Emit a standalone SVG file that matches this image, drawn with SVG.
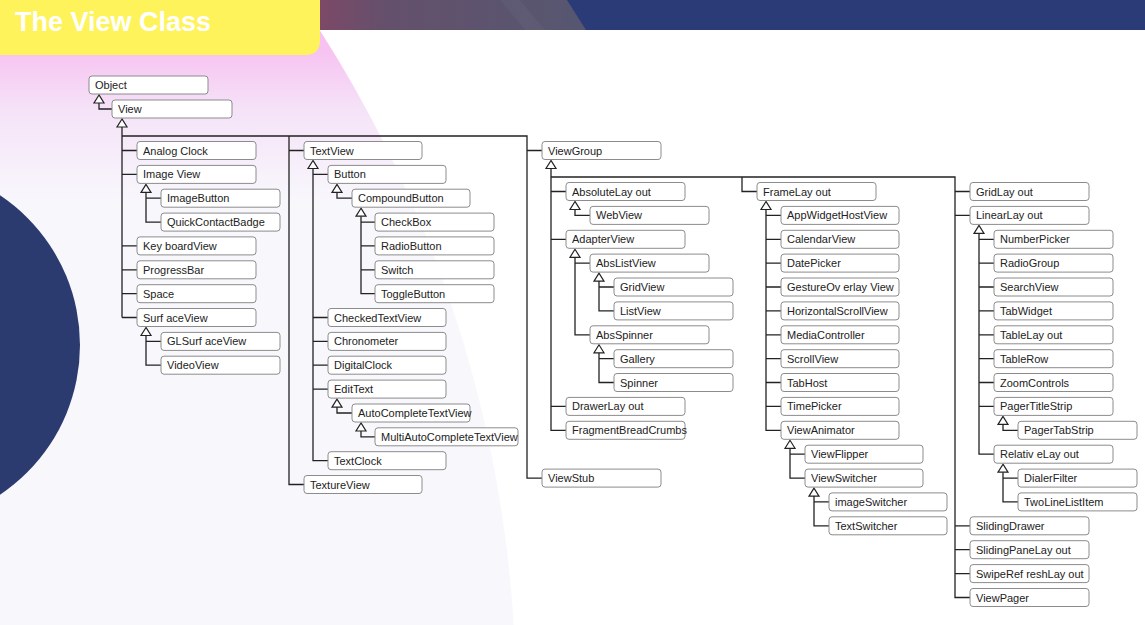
<svg xmlns="http://www.w3.org/2000/svg" width="1145" height="625" viewBox="0 0 1145 625">
<defs>
<linearGradient id="pink" gradientUnits="userSpaceOnUse" x1="0" y1="50" x2="0" y2="200">
<stop offset="0" stop-color="#f7c2f1"/>
<stop offset="0.4" stop-color="#f5e3f8"/>
<stop offset="1" stop-color="#f8f7fc"/>
</linearGradient>
<linearGradient id="band" gradientUnits="userSpaceOnUse" x1="320" y1="0" x2="1145" y2="0">
<stop offset="0" stop-color="#7c4967"/>
<stop offset="0.08" stop-color="#64506c"/>
<stop offset="0.3" stop-color="#575670"/>
<stop offset="1" stop-color="#575670"/>
</linearGradient>
<style>
.n rect{fill:#fff;stroke:#8c8c8c;stroke-width:1}
.n text{font-family:"Liberation Sans",Arial,sans-serif;font-size:11px;fill:#222}
.c path{fill:none;stroke:#222;stroke-width:1.3}
.c polygon{fill:#fff;stroke:#222;stroke-width:1.2}
</style>
</defs>
<rect width="1145" height="625" fill="#fff"/>
<circle cx="-725" cy="700" r="1241" fill="url(#pink)"/>
<circle cx="-100" cy="345" r="180" fill="#2b3a6f"/>
<rect x="300" y="0" width="845" height="30" fill="url(#band)"/>
<polygon points="567,0 1145,0 1145,30 586,30" fill="#2b3b77"/>
<polygon points="500,0 520,0 545,30 525,30" fill="#615f76" opacity="0.6"/>
<path d="M0 0 H320 V40 Q320 55 305 55 H0 Z" fill="#fff35c"/>
<text x="15" y="31" font-family="Liberation Sans,Arial,sans-serif" font-size="27" font-weight="bold" fill="#fff">The View Class</text>

<g class="c">
<path d="M99 103 V109 H112"/>
<polygon points="99,95 94,103 104,103"/>
<path d="M122 127 V317.5 M122 150.5 H137 M122 174.4 H137 M122 245.9 H137 M122 269.8 H137 M122 293.7 H137 M122 317.5 H137"/>
<path d="M122 136 H527 V478.1 H542 M527 150.5 H542 M289 136 V484.5 H304 M289 150.5 H304"/>
<polygon points="122,119 117,127 127,127"/>
<path d="M146 192.4 V222.1 H161 M146 198.2 H161"/>
<polygon points="146,184.4 141,192.4 151,192.4"/>
<path d="M146 335.5 V365.2 H161 M146 341.4 H161"/>
<polygon points="146,327.5 141,335.5 151,335.5"/>
<path d="M313 168.5 V460.7 H328 M313 174.4 H328 M313 317.5 H328 M313 341.4 H328 M313 365.2 H328 M313 389.1 H328"/>
<polygon points="313,160.5 308,168.5 318,168.5"/>
<path d="M337 192.4 V198.2 H352"/>
<polygon points="337,184.4 332,192.4 342,192.4"/>
<path d="M361 216.2 V293.7 H375 M361 222.1 H375 M361 245.9 H375 M361 269.8 H375"/>
<polygon points="361,208.2 356,216.2 366,216.2"/>
<path d="M337 407.1 V413 H352"/>
<polygon points="337,399.1 332,407.1 342,407.1"/>
<path d="M361 431 V436.8 H375"/>
<polygon points="361,423 356,431 366,431"/>
<path d="M551 168.5 V430.3 H566 M551 191.5 H566 M551 239.3 H566 M551 406.4 H566"/>
<path d="M551 177 H955 V597.5 H970 M742 177 V191.5 H757 M955 191.5 H970 M955 215.4 H970 M955 525.8 H970 M955 549.7 H970 M955 573.6 H970"/>
<polygon points="551,160.5 546,168.5 556,168.5"/>
<path d="M575 209.5 V215.4 H590"/>
<polygon points="575,201.5 570,209.5 580,209.5"/>
<path d="M575 257.3 V334.8 H590 M575 263.1 H590"/>
<polygon points="575,249.3 570,257.3 580,257.3"/>
<path d="M599 281.1 V310.9 H614 M599 287 H614"/>
<polygon points="599,273.1 594,281.1 604,281.1"/>
<path d="M599 352.8 V382.5 H614 M599 358.7 H614"/>
<polygon points="599,344.8 594,352.8 604,352.8"/>
<path d="M766 209.5 V430.3 H781 M766 215.4 H781 M766 239.3 H781 M766 263.1 H781 M766 287 H781 M766 310.9 H781 M766 334.8 H781 M766 358.7 H781 M766 382.5 H781 M766 406.4 H781"/>
<polygon points="766,201.5 761,209.5 771,209.5"/>
<path d="M790 448.3 V478.1 H805 M790 454.2 H805"/>
<polygon points="790,440.3 785,448.3 795,448.3"/>
<path d="M814 496.1 V525.8 H829 M814 501.9 H829"/>
<polygon points="814,488.1 809,496.1 819,496.1"/>
<path d="M979 233.4 V454.2 H994 M979 239.3 H994 M979 263.1 H994 M979 287 H994 M979 310.9 H994 M979 334.8 H994 M979 358.7 H994 M979 382.5 H994 M979 406.4 H994"/>
<polygon points="979,225.4 974,233.4 984,233.4"/>
<path d="M1003 424.4 V430.3 H1018"/>
<polygon points="1003,416.4 998,424.4 1008,424.4"/>
<path d="M1003 472.2 V501.9 H1018 M1003 478.1 H1018"/>
<polygon points="1003,464.2 998,472.2 1008,472.2"/>
</g>

<g class="n" id="n-object"><rect x="89" y="76" width="119" height="18" rx="3"/><text x="95" y="89">Object</text></g>
<g class="n" id="n-view"><rect x="112" y="100" width="120" height="18" rx="3"/><text x="118" y="113">View</text></g>
<g class="n" id="n-analogclock"><rect x="137" y="141.5" width="119" height="18" rx="3"/><text x="143" y="154.5">Analog Clock</text></g>
<g class="n" id="n-imageview"><rect x="137" y="165.4" width="119" height="18" rx="3"/><text x="143" y="178.4">Image View</text></g>
<g class="n" id="n-imagebutton"><rect x="161" y="189.2" width="119" height="18" rx="3"/><text x="167" y="202.2">ImageButton</text></g>
<g class="n" id="n-quickcontactbadge"><rect x="161" y="213.1" width="119" height="18" rx="3"/><text x="167" y="226.1">QuickContactBadge</text></g>
<g class="n" id="n-keyboardview"><rect x="137" y="236.9" width="119" height="18" rx="3"/><text x="143" y="249.9">Key boardView</text></g>
<g class="n" id="n-progressbar"><rect x="137" y="260.8" width="119" height="18" rx="3"/><text x="143" y="273.8">ProgressBar</text></g>
<g class="n" id="n-space"><rect x="137" y="284.7" width="119" height="18" rx="3"/><text x="143" y="297.7">Space</text></g>
<g class="n" id="n-surfaceview"><rect x="137" y="308.5" width="119" height="18" rx="3"/><text x="143" y="321.5">Surf aceView</text></g>
<g class="n" id="n-glsurfaceview"><rect x="161" y="332.4" width="119" height="18" rx="3"/><text x="167" y="345.4">GLSurf aceView</text></g>
<g class="n" id="n-videoview"><rect x="161" y="356.2" width="119" height="18" rx="3"/><text x="167" y="369.2">VideoView</text></g>

<g class="n" id="n-textview"><rect x="304" y="141.5" width="118" height="18" rx="3"/><text x="310" y="154.5">TextView</text></g>
<g class="n" id="n-button"><rect x="328" y="165.4" width="118" height="18" rx="3"/><text x="334" y="178.4">Button</text></g>
<g class="n" id="n-compoundbutton"><rect x="352" y="189.2" width="118" height="18" rx="3"/><text x="358" y="202.2">CompoundButton</text></g>
<g class="n" id="n-checkbox"><rect x="375" y="213.1" width="119" height="18" rx="3"/><text x="381" y="226.1">CheckBox</text></g>
<g class="n" id="n-radiobutton"><rect x="375" y="236.9" width="119" height="18" rx="3"/><text x="381" y="249.9">RadioButton</text></g>
<g class="n" id="n-switch"><rect x="375" y="260.8" width="119" height="18" rx="3"/><text x="381" y="273.8">Switch</text></g>
<g class="n" id="n-togglebutton"><rect x="375" y="284.7" width="119" height="18" rx="3"/><text x="381" y="297.7">ToggleButton</text></g>
<g class="n" id="n-checkedtextview"><rect x="328" y="308.5" width="118" height="18" rx="3"/><text x="334" y="321.5">CheckedTextView</text></g>
<g class="n" id="n-chronometer"><rect x="328" y="332.4" width="118" height="18" rx="3"/><text x="334" y="345.4">Chronometer</text></g>
<g class="n" id="n-digitalclock"><rect x="328" y="356.2" width="118" height="18" rx="3"/><text x="334" y="369.2">DigitalClock</text></g>
<g class="n" id="n-edittext"><rect x="328" y="380.1" width="118" height="18" rx="3"/><text x="334" y="393.1">EditText</text></g>
<g class="n" id="n-autocompletetextview"><rect x="352" y="404" width="118" height="18" rx="3"/><text x="358" y="417">AutoCompleteTextView</text></g>
<g class="n" id="n-multiautocompletetextview"><rect x="375" y="427.8" width="143" height="18" rx="3"/><text x="381" y="440.8">MultiAutoCompleteTextView</text></g>
<g class="n" id="n-textclock"><rect x="328" y="451.7" width="118" height="18" rx="3"/><text x="334" y="464.7">TextClock</text></g>
<g class="n" id="n-textureview"><rect x="304" y="475.5" width="118" height="18" rx="3"/><text x="310" y="488.5">TextureView</text></g>

<g class="n" id="n-viewgroup"><rect x="542" y="141.5" width="119" height="18" rx="3"/><text x="548" y="154.5">ViewGroup</text></g>
<g class="n" id="n-absolutelayout"><rect x="566" y="182.5" width="119" height="18" rx="3"/><text x="572" y="195.5">AbsoluteLay out</text></g>
<g class="n" id="n-webview"><rect x="590" y="206.4" width="119" height="18" rx="3"/><text x="596" y="219.4">WebView</text></g>
<g class="n" id="n-adapterview"><rect x="566" y="230.3" width="119" height="18" rx="3"/><text x="572" y="243.3">AdapterView</text></g>
<g class="n" id="n-abslistview"><rect x="590" y="254.1" width="119" height="18" rx="3"/><text x="596" y="267.1">AbsListView</text></g>
<g class="n" id="n-gridview"><rect x="614" y="278" width="119" height="18" rx="3"/><text x="620" y="291">GridView</text></g>
<g class="n" id="n-listview"><rect x="614" y="301.9" width="119" height="18" rx="3"/><text x="620" y="314.9">ListView</text></g>
<g class="n" id="n-absspinner"><rect x="590" y="325.8" width="119" height="18" rx="3"/><text x="596" y="338.8">AbsSpinner</text></g>
<g class="n" id="n-gallery"><rect x="614" y="349.7" width="119" height="18" rx="3"/><text x="620" y="362.7">Gallery</text></g>
<g class="n" id="n-spinner"><rect x="614" y="373.5" width="119" height="18" rx="3"/><text x="620" y="386.5">Spinner</text></g>
<g class="n" id="n-drawerlayout"><rect x="566" y="397.4" width="119" height="18" rx="3"/><text x="572" y="410.4">DrawerLay out</text></g>
<g class="n" id="n-fragmentbreadcrumbs"><rect x="566" y="421.3" width="119" height="18" rx="3"/><text x="572" y="434.3">FragmentBreadCrumbs</text></g>
<g class="n" id="n-viewstub"><rect x="542" y="469.1" width="119" height="18" rx="3"/><text x="548" y="482.1">ViewStub</text></g>

<g class="n" id="n-framelayout"><rect x="757" y="182.5" width="119" height="18" rx="3"/><text x="763" y="195.5">FrameLay out</text></g>
<g class="n" id="n-appwidgethostview"><rect x="781" y="206.4" width="118" height="18" rx="3"/><text x="787" y="219.4">AppWidgetHostView</text></g>
<g class="n" id="n-calendarview"><rect x="781" y="230.3" width="118" height="18" rx="3"/><text x="787" y="243.3">CalendarView</text></g>
<g class="n" id="n-datepicker"><rect x="781" y="254.1" width="118" height="18" rx="3"/><text x="787" y="267.1">DatePicker</text></g>
<g class="n" id="n-gestureoverlayview"><rect x="781" y="278" width="118" height="18" rx="3"/><text x="787" y="291">GestureOv erlay View</text></g>
<g class="n" id="n-horizontalscrollview"><rect x="781" y="301.9" width="118" height="18" rx="3"/><text x="787" y="314.9">HorizontalScrollView</text></g>
<g class="n" id="n-mediacontroller"><rect x="781" y="325.8" width="118" height="18" rx="3"/><text x="787" y="338.8">MediaController</text></g>
<g class="n" id="n-scrollview"><rect x="781" y="349.7" width="118" height="18" rx="3"/><text x="787" y="362.7">ScrollView</text></g>
<g class="n" id="n-tabhost"><rect x="781" y="373.5" width="118" height="18" rx="3"/><text x="787" y="386.5">TabHost</text></g>
<g class="n" id="n-timepicker"><rect x="781" y="397.4" width="118" height="18" rx="3"/><text x="787" y="410.4">TimePicker</text></g>
<g class="n" id="n-viewanimator"><rect x="781" y="421.3" width="118" height="18" rx="3"/><text x="787" y="434.3">ViewAnimator</text></g>
<g class="n" id="n-viewflipper"><rect x="805" y="445.2" width="118" height="18" rx="3"/><text x="811" y="458.2">ViewFlipper</text></g>
<g class="n" id="n-viewswitcher"><rect x="805" y="469.1" width="118" height="18" rx="3"/><text x="811" y="482.1">ViewSwitcher</text></g>
<g class="n" id="n-imageswitcher"><rect x="829" y="492.9" width="118" height="18" rx="3"/><text x="835" y="505.9">imageSwitcher</text></g>
<g class="n" id="n-textswitcher"><rect x="829" y="516.8" width="118" height="18" rx="3"/><text x="835" y="529.8">TextSwitcher</text></g>

<g class="n" id="n-gridlayout"><rect x="970" y="182.5" width="119" height="18" rx="3"/><text x="976" y="195.5">GridLay out</text></g>
<g class="n" id="n-linearlayout"><rect x="970" y="206.4" width="119" height="18" rx="3"/><text x="976" y="219.4">LinearLay out</text></g>
<g class="n" id="n-numberpicker"><rect x="994" y="230.3" width="119" height="18" rx="3"/><text x="1000" y="243.3">NumberPicker</text></g>
<g class="n" id="n-radiogroup"><rect x="994" y="254.1" width="119" height="18" rx="3"/><text x="1000" y="267.1">RadioGroup</text></g>
<g class="n" id="n-searchview"><rect x="994" y="278" width="119" height="18" rx="3"/><text x="1000" y="291">SearchView</text></g>
<g class="n" id="n-tabwidget"><rect x="994" y="301.9" width="119" height="18" rx="3"/><text x="1000" y="314.9">TabWidget</text></g>
<g class="n" id="n-tablelayout"><rect x="994" y="325.8" width="119" height="18" rx="3"/><text x="1000" y="338.8">TableLay out</text></g>
<g class="n" id="n-tablerow"><rect x="994" y="349.7" width="119" height="18" rx="3"/><text x="1000" y="362.7">TableRow</text></g>
<g class="n" id="n-zoomcontrols"><rect x="994" y="373.5" width="119" height="18" rx="3"/><text x="1000" y="386.5">ZoomControls</text></g>
<g class="n" id="n-pagertitlestrip"><rect x="994" y="397.4" width="119" height="18" rx="3"/><text x="1000" y="410.4">PagerTitleStrip</text></g>
<g class="n" id="n-pagertabstrip"><rect x="1018" y="421.3" width="119" height="18" rx="3"/><text x="1024" y="434.3">PagerTabStrip</text></g>
<g class="n" id="n-relativelayout"><rect x="994" y="445.2" width="119" height="18" rx="3"/><text x="1000" y="458.2">Relativ eLay out</text></g>
<g class="n" id="n-dialerfilter"><rect x="1018" y="469.1" width="119" height="18" rx="3"/><text x="1024" y="482.1">DialerFilter</text></g>
<g class="n" id="n-twolinelistitem"><rect x="1018" y="492.9" width="119" height="18" rx="3"/><text x="1024" y="505.9">TwoLineListItem</text></g>
<g class="n" id="n-slidingdrawer"><rect x="970" y="516.8" width="119" height="18" rx="3"/><text x="976" y="529.8">SlidingDrawer</text></g>
<g class="n" id="n-slidingpanelayout"><rect x="970" y="540.7" width="119" height="18" rx="3"/><text x="976" y="553.7">SlidingPaneLay out</text></g>
<g class="n" id="n-swiperefreshlayout"><rect x="970" y="564.6" width="119" height="18" rx="3"/><text x="976" y="577.6">SwipeRef reshLay out</text></g>
<g class="n" id="n-viewpager"><rect x="970" y="588.5" width="119" height="18" rx="3"/><text x="976" y="601.5">ViewPager</text></g>
</svg>
